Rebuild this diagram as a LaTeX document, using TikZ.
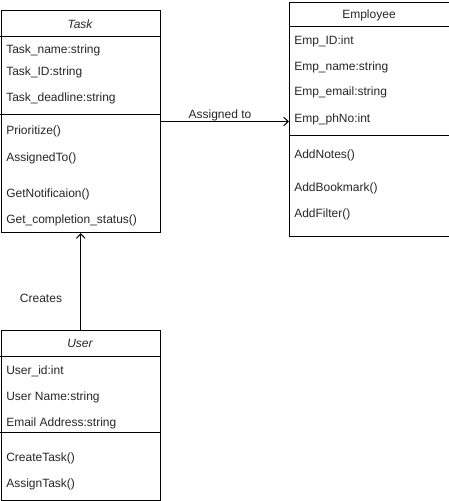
\documentclass[tikz,border=0pt]{standalone}
\usepackage{fontspec}
\setmainfont{Liberation Sans}
\usetikzlibrary{arrows.meta}
\begin{document}
\begin{tikzpicture}[x=0.75pt,y=-0.75pt,
  cls/.style={draw=black,line width=0.75pt,rectangle,inner sep=0pt,anchor=north west},
  sep/.style={draw=black,line width=0.75pt},
  txt/.style={anchor=base west,inner sep=0pt,yshift=-4.3*0.75pt,font=\fontsize{9}{10}\selectfont,text=black!85},
  hdr/.style={anchor=base,inner sep=0pt,yshift=-4.3*0.75pt,font=\fontsize{9}{10}\selectfont,text=black!85},
  conn/.style={draw=black,line width=0.75pt,-{Straight Barb[length=3.5pt,width=6.5pt]}},
  lbl/.style={anchor=base,inner sep=0pt,yshift=-4.3*0.75pt,font=\fontsize{9}{10}\selectfont,text=black!85}]
\useasboundingbox (0,0) rectangle (449,501);
% Task
\node[cls,minimum width=159.5*0.75pt,minimum height=222*0.75pt] (task) at (0.5,10) {};
\draw[sep] (0.5,36) -- (160,36);
\draw[sep] (0.5,114) -- (160,114);
\node[hdr,font=\fontsize{9}{10}\selectfont\itshape] (taskh) at (80,24) {Task};
\node[txt] (t1) at (6,49) {Task\_name:string};
\node[txt] (t2) at (6,71) {Task\_ID:string};
\node[txt] (t3) at (6,97) {Task\_deadline:string};
\node[txt] (t4) at (6,130) {Prioritize()};
\node[txt] (t5) at (6,157) {AssignedTo()};
\node[txt] (t6) at (6,193) {GetNotificaion()};
\node[txt] (t7) at (6,219) {Get\_completion\_status()};
% Employee
\node[cls,minimum width=159.5*0.75pt,minimum height=234*0.75pt] (emp) at (289,2) {};
\draw[sep] (289,26) -- (448.5,26);
\draw[sep] (289,135) -- (448.5,135);
\node[hdr] (emph) at (369,14) {Employee};
\node[txt] (e1) at (294,40) {Emp\_ID:int};
\node[txt] (e2) at (294,66) {Emp\_name:string};
\node[txt] (e3) at (294,91) {Emp\_email:string};
\node[txt] (e4) at (294,118) {Emp\_phNo:int};
\node[txt] (e5) at (294,154) {AddNotes()};
\node[txt] (e6) at (294,187) {AddBookmark()};
\node[txt] (e7) at (294,213) {AddFilter()};
% User
\node[cls,minimum width=159.5*0.75pt,minimum height=170*0.75pt] (user) at (0.5,330) {};
\draw[sep] (0.5,356) -- (160,356);
\draw[sep] (0.5,432) -- (160,432);
\node[hdr,font=\fontsize{9}{10}\selectfont\itshape] (userh) at (80,343) {User};
\node[txt] (u1) at (6,370) {User\_id:int};
\node[txt] (u2) at (6,396) {User Name:string};
\node[txt] (u3) at (6,422) {Email Address:string};
\node[txt] (u4) at (6,457) {CreateTask()};
\node[txt] (u5) at (6,483) {AssignTask()};
% connectors
\draw[conn] (task.east) -- (task.east -| emp.west);
\node[lbl] (assigned) at (220,114) {Assigned to};
\draw[conn] (user.north) -- (task.south);
\node[lbl] (creates) at (41,298) {Creates};
\end{tikzpicture}
\end{document}
